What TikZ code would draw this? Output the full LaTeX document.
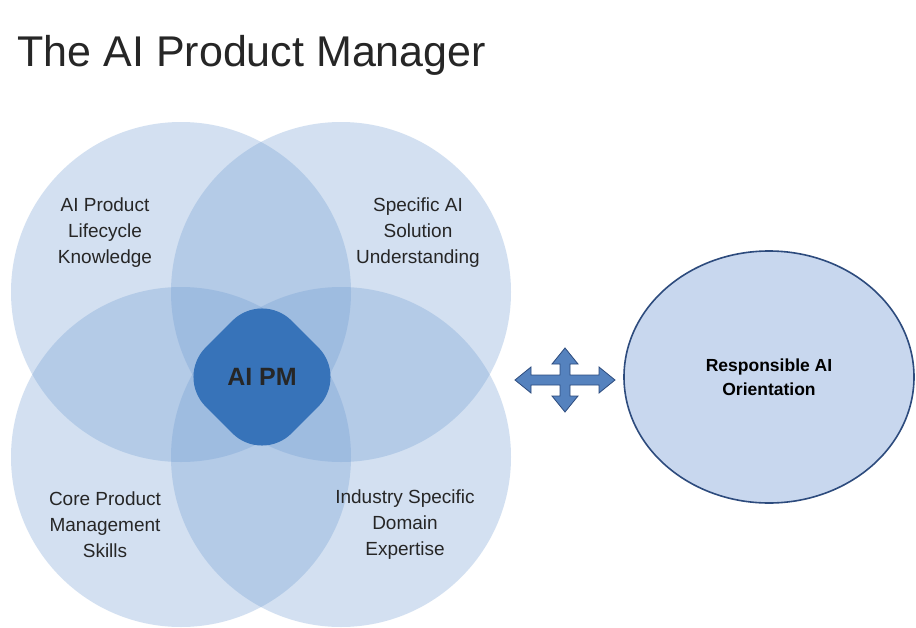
\documentclass[tikz,border=0pt]{standalone}
\usepackage{fontspec}
\setmainfont{Liberation Sans}
\usetikzlibrary{positioning,shapes.geometric}
\definecolor{venn}{RGB}{110,155,210}
\definecolor{core}{RGB}{55,115,185}
\definecolor{rai}{RGB}{200,215,238}
\definecolor{raiedge}{RGB}{45,75,125}
\definecolor{arrowfill}{RGB}{85,130,190}
\begin{document}
\begin{tikzpicture}[x=1pt,y=-1pt,
        vennnode/.style={circle, fill=venn, fill opacity=0.3, minimum size=340pt, inner sep=0pt},
        labelnode/.style={font=\fontsize{19}{26}\selectfont, text=black!85, align=center},
    ]
    \useasboundingbox (0,0) rectangle (916,627);
    \fill[white] (0,0) rectangle (916,627);
    % Title
    \node[anchor=west, font=\fontsize{43}{50}\selectfont, text=black!85] (title) at (14,55) {The AI Product Manager};

    % Venn circles
    \node[vennnode] (lifecycle) at (181,292) {};
    \node[vennnode] (solution)  at (341,292) {};
    \node[vennnode] (core)      at (181,457) {};
    \node[vennnode] (domain)    at (341,457) {};

    % Centre
    \node[diamond, fill=core, rounded corners=42pt, minimum width=172pt, minimum height=172pt, inner sep=0pt] (aipm) at (262,377) {};
    \node[font=\bfseries\fontsize{25}{30}\selectfont, text=black!85] at (aipm) {AI PM};

    % Labels
    \node[labelnode] (l_lifecycle) at (105,233) {AI Product\\Lifecycle\\Knowledge};
    \node[labelnode] (l_solution)  at (418,233) {Specific AI\\Solution\\Understanding};
    \node[labelnode] (l_core)      at (105,525) {Core Product\\Management\\Skills};
    \node[labelnode] (l_domain)    at (405,525) {Industry Specific\\Domain\\Expertise};

    % Responsible AI
    \node[ellipse, draw=raiedge, line width=1.6pt, fill=rai, minimum width=290pt, minimum height=252pt,
          font=\bfseries\fontsize{17.5}{24}\selectfont, align=center] (rai) at (769,377) {Responsible AI\\Orientation};

    % Four-way arrow
    \coordinate (hub) at (565,380);
    \draw[raiedge, line width=0.8pt, fill=arrowfill, shift={(hub)}]
        (-50,0) -- (-34,-13) -- (-34,-5) -- (-5,-5) -- (-5,-16) -- (-13,-16) -- (0,-32)
        -- (13,-16) -- (5,-16) -- (5,-5) -- (34,-5) -- (34,-13) -- (50,0)
        -- (34,13) -- (34,5) -- (5,5) -- (5,16) -- (13,16) -- (0,32)
        -- (-13,16) -- (-5,16) -- (-5,5) -- (-34,5) -- (-34,13) -- cycle;
\end{tikzpicture}
\end{document}
